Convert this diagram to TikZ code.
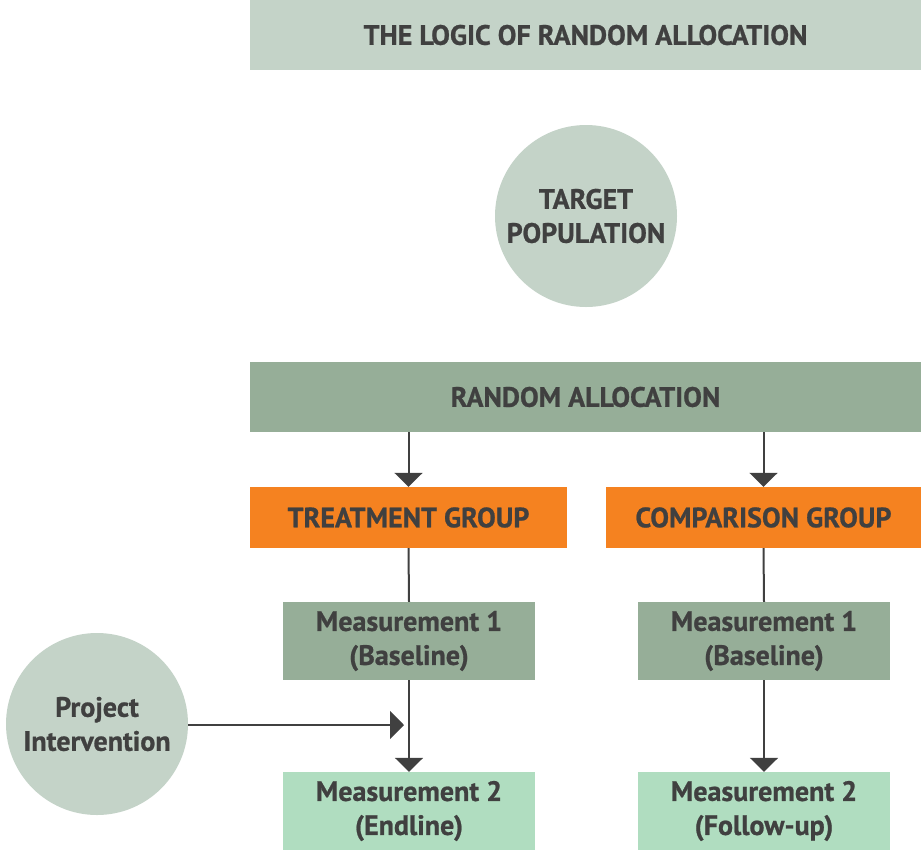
\documentclass[tikz,border=0pt]{standalone}
\usepackage{fontspec}
\setmainfont[BoldFeatures={FakeBold=0.8}]{PT Sans}
\usetikzlibrary{arrows.meta}
\definecolor{titlebg}{HTML}{C4D3C8}
\definecolor{midgreen}{HTML}{96AE98}
\definecolor{orangeg}{HTML}{F58220}
\definecolor{mint}{HTML}{B0DDC0}
\definecolor{ink}{HTML}{404040}
\tikzset{
  box/.style={draw=none, minimum height=#1, inner sep=0pt, text=ink, font=\bfseries\fontsize{28}{34}\selectfont, align=center},
  circ/.style={circle, draw=none, fill=titlebg, minimum size=182pt, inner sep=0pt, text=ink, align=center, font=\bfseries\fontsize{28}{34}\selectfont},
  conn/.style={draw=ink, line width=2pt},
  arr/.style={conn, -{Triangle[width=28pt,length=14pt]}}
}
\begin{document}
\begin{tikzpicture}[x=1pt,y=-1pt]
\useasboundingbox (0,0) rectangle (921,852);
\node[box=70pt, fill=titlebg, minimum width=671pt] (title) at (585.5,35) {THE LOGIC OF RANDOM ALLOCATION};
\node[circ] (target) at (586,216) {TARGET\\POPULATION};
\node[box=70pt, fill=midgreen, minimum width=671pt] (rand) at (585.5,397) {RANDOM ALLOCATION};
\node[box=61pt, fill=orangeg, minimum width=317pt] (treat) at (408.5,517.5) {TREATMENT GROUP};
\node[box=61pt, fill=orangeg, minimum width=315pt] (comp) at (763.5,517.5) {COMPARISON GROUP};
\node[box=78pt, fill=midgreen, minimum width=252pt] (m1l) at (409,641) {Measurement 1\\(Baseline)};
\node[box=78pt, fill=midgreen, minimum width=252pt] (m1r) at (764,641) {Measurement 1\\(Baseline)};
\node[box=78pt, fill=mint, minimum width=252pt] (m2l) at (409,811) {Measurement 2\\(Endline)};
\node[box=78pt, fill=mint, minimum width=252pt] (m2r) at (764,811) {Measurement 2\\(Follow-up)};
\node[circ] (proj) at (97,724) {Project\\Intervention};
\draw[arr] (rand.south -| treat.north) -- (treat.north);
\draw[arr] (rand.south -| comp.north) -- (comp.north);
\draw[conn] (treat.south) -- (m1l.north);
\draw[conn] (comp.south) -- (m1r.north);
\draw[arr] (m1l.south) -- (m2l.north);
\draw[arr] (m1r.south) -- (m2r.north);
\coordinate (hit) at (404,725);
\draw[arr] (proj.east |- hit) -- (hit);
\end{tikzpicture}
\end{document}
